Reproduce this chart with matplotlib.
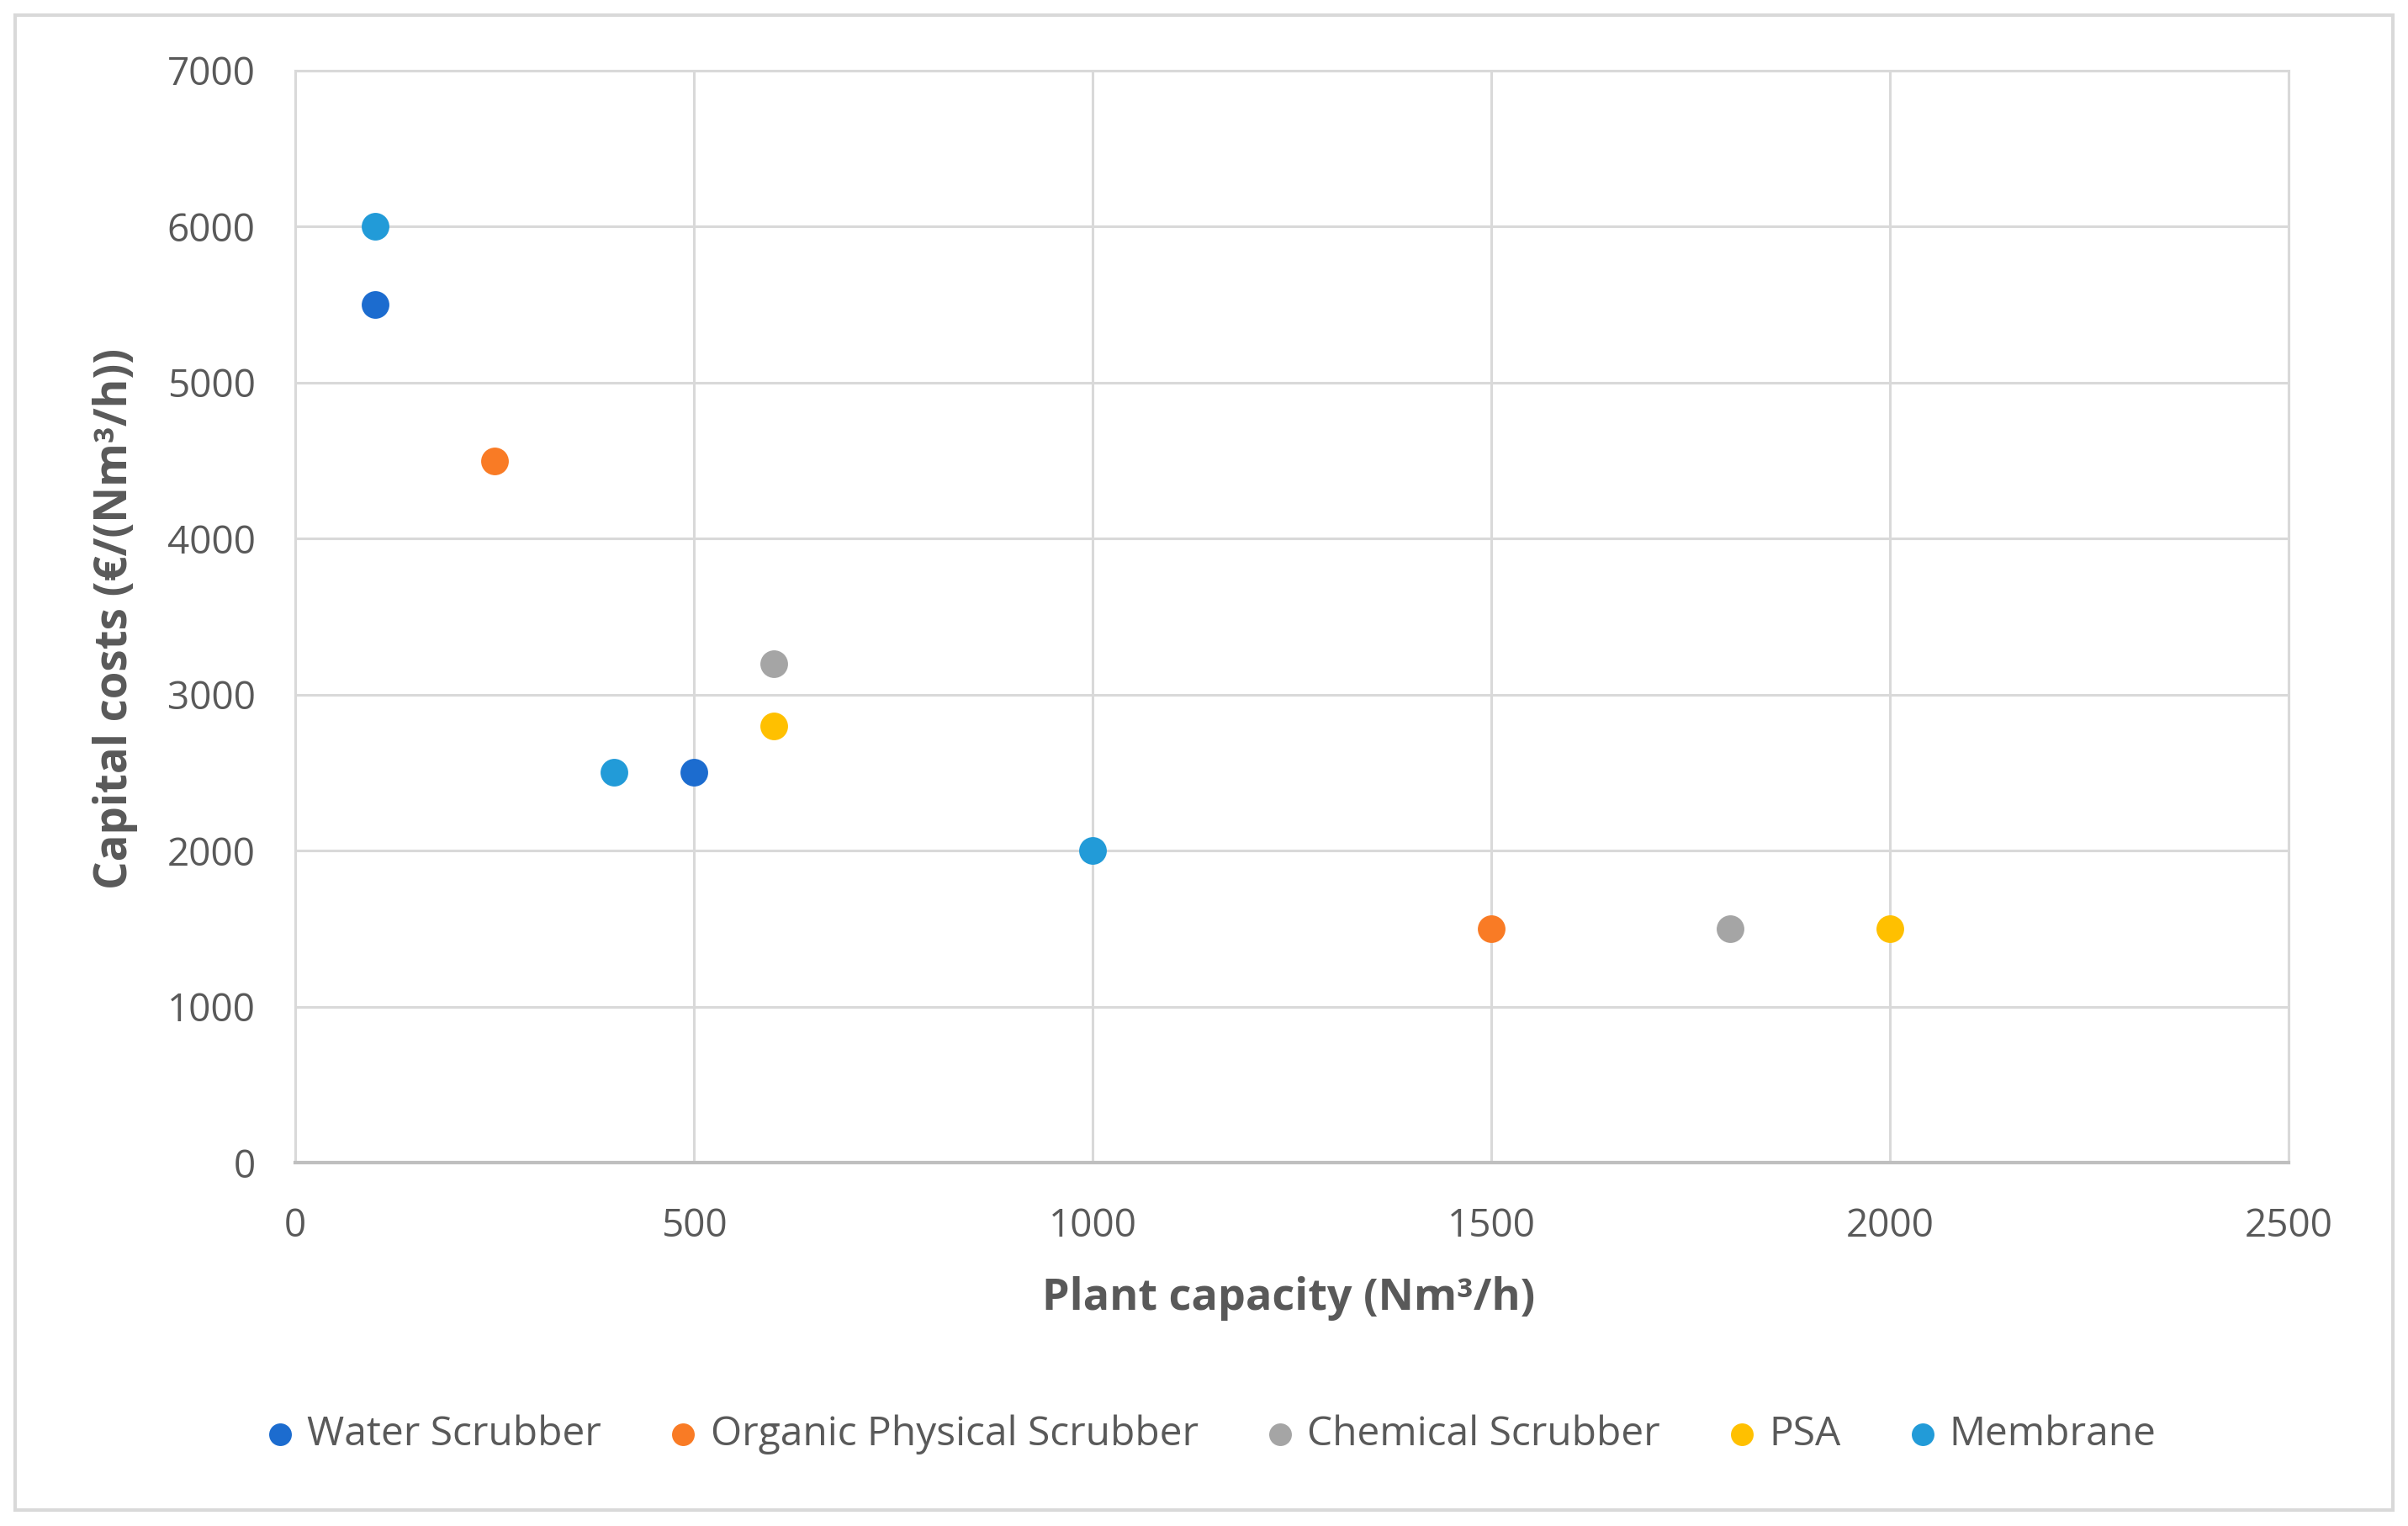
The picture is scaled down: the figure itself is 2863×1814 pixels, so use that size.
import matplotlib.pyplot as plt
from matplotlib.patches import Rectangle

plt.rcParams['font.family'] = ['Open Sans', 'DejaVu Sans']

# Data
series = ['Water Scrubber', 'Organic Physical Scrubber', 'Chemical Scrubber', 'PSA', 'Membrane']
colors = ['#1c6ccf', '#f97b25', '#a5a5a5', '#ffc000', '#229bd8']

water_x = [100, 500]
water_y = [5500, 2500]
organic_x = [250, 1500]
organic_y = [4500, 1500]
chemical_x = [600, 1800]
chemical_y = [3200, 1500]
psa_x = [600, 2000]
psa_y = [2800, 1500]
membrane_x = [100, 400, 1000]
membrane_y = [6000, 2500, 2000]

xs = [water_x, organic_x, chemical_x, psa_x, membrane_x]
ys = [water_y, organic_y, chemical_y, psa_y, membrane_y]

x_ticks = [0, 500, 1000, 1500, 2000, 2500]
y_ticks = [0, 1000, 2000, 3000, 4000, 5000, 6000, 7000]

fig = plt.figure(figsize=(28.63, 18.14), dpi=100)
ax = fig.add_axes([0.1226, 0.2381, 0.8278, 0.7156])

for name, c, x, y in zip(series, colors, xs, ys):
    ax.scatter(x, y, s=560, color=c, label=name, zorder=3, linewidths=0)

ax.set_xlim(0, 2500)
ax.set_ylim(0, 7000)
ax.set_xticks(x_ticks)
ax.set_yticks(y_ticks)
ax.grid(True, color='#d9d9d9', linewidth=2.2, zorder=0)
ax.set_axisbelow(True)
for side in ['top', 'right', 'left']:
    ax.spines[side].set_color('#d9d9d9')
    ax.spines[side].set_linewidth(2.2)
ax.spines['bottom'].set_color('#bfbfbf')
ax.spines['bottom'].set_linewidth(3)

ax.tick_params(axis='both', length=0, labelsize=33, labelcolor='#595959')
ax.tick_params(axis='x', pad=38)
ax.tick_params(axis='y', pad=34)

fig.text(0.535, 0.149, 'Plant capacity (Nm³/h)', ha='center', va='center',
         fontsize=37.5, fontweight='bold', color='#595959')
fig.text(0.048, 0.5945, 'Capital costs (€/(Nm³/h))', ha='center', va='center',
         rotation=90, fontsize=38, fontweight='bold', color='#595959')

leg = fig.legend(loc='center', bbox_to_anchor=(0.503, 0.06), ncol=5, frameon=False,
                 fontsize=34.5, handlelength=0.7, handletextpad=0.32,
                 columnspacing=1.68, markerscale=0.82)
for t in leg.get_texts():
    t.set_color('#595959')

fig.patches.append(Rectangle((0.0063, 0.0105), 0.9874, 0.9795, transform=fig.transFigure,
                             fill=False, edgecolor='#d9d9d9', linewidth=3))

fig.savefig('out.png', dpi=100)
